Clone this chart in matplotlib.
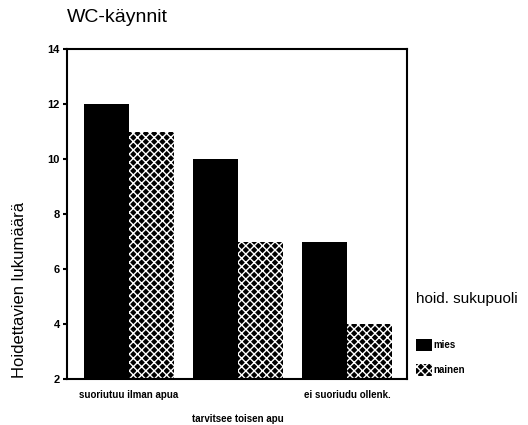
import matplotlib.pyplot as plt
import matplotlib.patches as mpatches
import numpy as np

categories = ['suoriutuu ilman apua', 'tarvitsee toisen apu', 'ei suoriudu ollenk.']
mies = [12, 10, 7]
nainen = [11, 7, 4]
series_labels = ['mies', 'nainen']

plt.rcParams['hatch.linewidth'] = 1.0
plt.rcParams['font.family'] = 'Liberation Sans'

fig = plt.figure(figsize=(5.28, 4.25), dpi=100)
ax = fig.add_axes([67 / 528, 1 - 379 / 425, 340 / 528, 330 / 425])

x = np.arange(len(categories))
w = 0.413
ax.bar(x - w / 2, np.array(mies) - 2, w, bottom=2, color='black', linewidth=0)
ax.bar(x + w / 2, np.array(nainen) - 2, w, bottom=2, facecolor='black',
       edgecolor='white', hatch='xxxx', linewidth=0)

ax.set_xlim(-0.569, 2.55)
ax.set_ylim(2, 14)
ax.set_yticks([2, 4, 6, 8, 10, 12, 14])
ax.tick_params(axis='y', length=3, width=1.5, labelsize=8, pad=2)
for lbl in ax.get_yticklabels():
    lbl.set_fontweight('bold')
ax.set_xticks([])
for s in ax.spines.values():
    s.set_linewidth(1.5)

# staggered category labels
for i, c in enumerate(categories):
    y = -0.05 if i % 2 == 0 else -0.12
    ax.text(x[i], y, c, transform=ax.get_xaxis_transform(), ha='center', va='center',
            fontsize=7, fontweight='bold')

fig.text(67 / 528, 1 - 18 / 425, 'WC-käynnit', fontsize=14, ha='left', va='center')
fig.text(20 / 528, 1 - 290 / 425, 'Hoidettavien lukumäärä', rotation=90,
         fontsize=12, ha='center', va='center')

handles = [mpatches.Patch(facecolor='black', linewidth=0),
           mpatches.Patch(facecolor='black', edgecolor='white', hatch='xxxx', linewidth=0)]
leg = fig.legend(handles, series_labels, title='hoid. sukupuoli', loc='upper left',
                 bbox_to_anchor=(412 / 528, 1 - 288 / 425), frameon=False,
                 prop={'size': 7, 'weight': 'bold'}, title_fontsize=11,
                 handlelength=1.7, handleheight=1.5, handletextpad=0.1,
                 labelspacing=1.3, alignment='left', borderaxespad=0)
leg._legend_box.sep = 24

fig.savefig('out.png', dpi=100)
